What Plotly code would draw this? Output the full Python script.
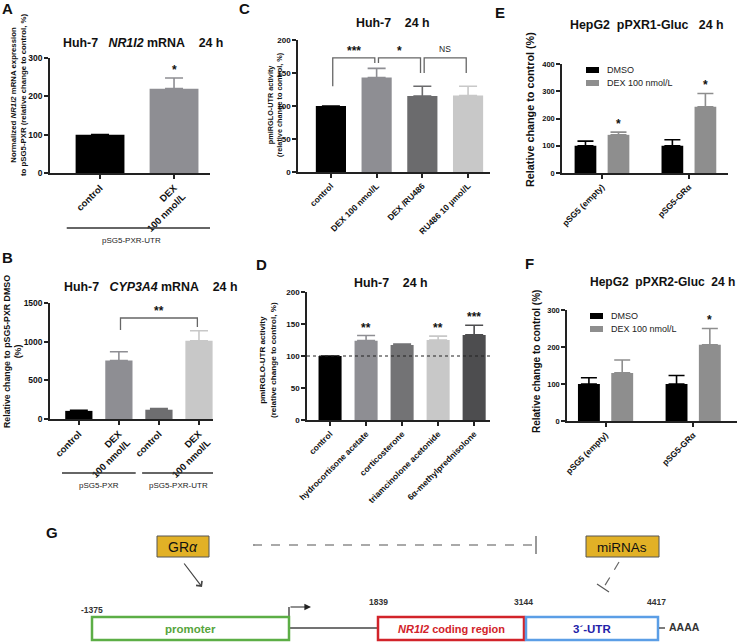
import plotly.graph_objects as go

W, H = 738, 642
FONT = "Arial, 'Liberation Sans', sans-serif"
NB = "\u00a0"

# ---------------- data ----------------
a_labels = ["control", "DEX<br>100 nmol/L"]
a_values = [100, 220]
a_err = [0, 28]
a_colors = ["#000000", "#8e8e93"]
a_stars = [(1, "*")]
a_groups = [("pSG5-PXR-UTR", 0, 1)]

b_labels = ["control", "DEX<br>100 nmol/L", "control", "DEX<br>100 nmol/L"]
b_values = [105, 755, 120, 1012]
b_err = [6, 115, 15, 130]
b_colors = ["#000000", "#8e8e93", "#6e6e70", "#c8c8c8"]
b_groups = [("pSG5-PXR", 0, 1), ("pSG5-PXR-UTR", 2, 3)]
b_brackets = [(1, 3, 1306, 1150, 1190, "**")]

c_labels = ["control", "DEX 100 nmol/L", "DEX /RU486", "RU486 10 µmol/L"]
c_values = [100, 143, 115, 116]
c_err = [0, 14, 15, 14]
c_colors = ["#000000", "#8e8e93", "#6b6b6d", "#c8c8c8"]
c_brackets = [(0, 1, 173, 130, 165, "***"), (1, 2, 173, 165, 150, "*"),
              (2, 3, 173, 150, 150, "NS")]

d_labels = ["control", "hydrocortisone acetate", "corticosterone",
            "triamcinolone acetonide", "6α-methylprednisolone"]
d_values = [100, 124, 117, 125, 133]
d_err = [0, 8, 1.5, 6, 15]
d_colors = ["#000000", "#8e8e93", "#737375", "#c8c8c8", "#4d4d4f"]
d_stars = [(1, "**"), (3, "**"), (4, "***")]
d_ref = 100

e_labels = ["pSG5 (empty)", "pSG5-GRα"]
e_dmso = [100, 100]
e_dmso_err = [17, 22]
e_dex = [140, 243]
e_dex_err = [10, 49]
e_stars = [(0, "*"), (1, "*")]

f_labels = ["pSG5 (empty)", "pSG5-GRα"]
f_dmso = [100, 100]
f_dmso_err = [17, 23]
f_dex = [130, 206]
f_dex_err = [35, 44]
f_stars = [(1, "*")]

series_names = ["DMSO", "DEX 100 nmol/L"]
series_colors = ["#000000", "#8e8e8e"]

g_positions = ["-1375", "1839", "3144", "4417"]

fig = go.Figure()


def dom(x0, x1, yb, yt):
    return [x0 / W, x1 / W], [1 - yb / H, 1 - yt / H]


def setup_axes(n, xpx, ypx, xr, yr, dtick, labels, xfs, yfs):
    s = "" if n == 1 else str(n)
    xd, yd = dom(xpx[0], xpx[1], ypx[0], ypx[1])
    fig.update_layout(**{
        "xaxis" + s: dict(domain=xd, anchor="y" + s, range=xr, automargin=False,
                          tickmode="array", tickvals=list(range(len(labels))),
                          ticktext=labels, tickangle=-45, ticks="outside",
                          ticklen=4, tickwidth=1.5, tickcolor="#222",
                          showline=True, linecolor="#222", linewidth=1.5,
                          showgrid=False, zeroline=False, fixedrange=True,
                          tickfont=dict(size=xfs, family=FONT, color="#111", weight="bold")),
        "yaxis" + s: dict(domain=yd, anchor="x" + s, range=yr, tickmode="linear",
                          automargin=False, fixedrange=True,
                          tick0=0, dtick=dtick, ticks="outside", ticklen=4,
                          tickwidth=1.5, tickcolor="#222", showline=True,
                          linecolor="#222", linewidth=1.5, showgrid=False,
                          zeroline=False,
                          tickfont=dict(size=yfs, family=FONT, color="#111", weight="bold")),
    })
    return s


def single_bars(s, values, err, colors, width):
    for i, (v, e, c) in enumerate(zip(values, err, colors)):
        fig.add_trace(go.Bar(
            x=[i], y=[v], width=width, marker=dict(color=c, line=dict(width=0)),
            error_y=dict(type="data", symmetric=False, array=[e], arrayminus=[0],
                         color=c, thickness=1.6, width=9),
            xaxis="x" + s, yaxis="y" + s, showlegend=False, hoverinfo="skip"))


annotations = []
shapes = []


def grouped_bars(s, dmso, dmso_err, dex, dex_err, legend_xy):
    lx, ly = legend_xy
    for k, (vals, errs, off) in enumerate([(dmso, dmso_err, -0.315), (dex, dex_err, 0.065)]):
        name, col = series_names[k], series_colors[k]
        fig.add_trace(go.Bar(
            x=list(range(len(vals))), y=vals, width=0.25, offset=off, name=name,
            marker=dict(color=col, line=dict(width=0)),
            error_y=dict(type="data", symmetric=False, array=errs,
                         arrayminus=[0] * len(errs), color=col, thickness=1.6, width=8),
            xaxis="x" + s, yaxis="y" + s, showlegend=False, hoverinfo="skip"))
        # legend entry (symbol + name)
        yy = ly + 13 * k
        shapes.append(dict(type="rect", xref="paper", yref="paper",
                           x0=lx / W, x1=(lx + 13) / W, y0=1 - (yy - 3) / H, y1=1 - (yy + 3) / H,
                           fillcolor=col, line=dict(width=0)))
        annotations.append(dict(x=(lx + 19) / W, y=1 - yy / H, xref="paper", yref="paper",
                                text=name, showarrow=False, xanchor="left", yanchor="middle",
                                font=dict(size=9, family=FONT, color="#222")))


def star(s, x, y, text, size=12):
    annotations.append(dict(x=x, y=y, xref="x" + s, yref="y" + s, text=text,
                            showarrow=False, yanchor="bottom", yshift=-1,
                            font=dict(size=size, family=FONT, color="#111", weight="bold")))


def bracket(s, i0, i1, top, yl, yr_, text):
    inset = 0.04
    x0, x1 = i0 + inset, i1 - inset
    shapes.append(dict(type="path", xref="x" + s, yref="y" + s,
                       path=f"M {x0},{yl} L {x0},{top} L {x1},{top} L {x1},{yr_}",
                       line=dict(color="#666", width=1.3)))
    if text == "NS":
        f = dict(size=8.5, family=FONT, color="#222")
        ys = 2
    else:
        f = dict(size=12, family=FONT, color="#111", weight="bold")
        ys = -2
    annotations.append(dict(x=(i0 + i1) / 2, y=top, xref="x" + s, yref="y" + s,
                            text=text, showarrow=False, yanchor="bottom", yshift=ys, font=f))


def text(xp, yp, t, size, bold=True, color="#111", anchor="center", angle=0):
    annotations.append(dict(x=xp / W, y=1 - yp / H, xref="paper", yref="paper",
                            text=t, showarrow=False, xanchor=anchor, yanchor="middle",
                            textangle=angle,
                            font=dict(size=size, family=FONT, color=color,
                                      weight="bold" if bold else "normal")))


# ---------------- Panel A ----------------
sA = setup_axes(1, (50, 210), (173, 58), [-0.676, 1.486], [0, 300], 100, a_labels, 9.5, 8.5)
single_bars(sA, a_values, a_err, a_colors, 0.66)
for i, t in a_stars:
    star(sA, i, a_values[i] + a_err[i], t)
for name, i0, i1 in a_groups:
    shapes.append(dict(type="line", xref="x", yref="paper", x0=i0 - 0.45, x1=i1 + 0.5,
                       y0=1 - 228 / H, y1=1 - 228 / H, line=dict(color="#333", width=1.3)))
    annotations.append(dict(x=(i0 + i1) / 2 - 0.07, y=1 - 240 / H, xref="x", yref="paper",
                            text=name, showarrow=False, yanchor="middle",
                            font=dict(size=8, family=FONT, color="#222")))

# ---------------- Panel B ----------------
sB = setup_axes(2, (50, 213), (419, 303), [-0.72, 3.35], [0, 1500], 500, b_labels, 9.5, 8.5)
single_bars(sB, b_values, b_err, b_colors, 0.68)
for i0, i1, top, yl, yr_, t in b_brackets:
    bracket(sB, i0, i1, top, yl, yr_, t)
for name, i0, i1 in b_groups:
    shapes.append(dict(type="line", xref="x2", yref="paper", x0=i0 - 0.42, x1=i1 + 0.42,
                       y0=1 - 473 / H, y1=1 - 473 / H, line=dict(color="#333", width=1.3)))
    annotations.append(dict(x=(i0 + i1) / 2, y=1 - 485 / H, xref="x2", yref="paper",
                            text=name, showarrow=False, yanchor="middle",
                            font=dict(size=8, family=FONT, color="#222")))

# ---------------- Panel C ----------------
sC = setup_axes(3, (298, 490), (172, 40), [-0.72, 3.48], [0, 200], 50, c_labels, 8.5, 8)
single_bars(sC, c_values, c_err, c_colors, 0.66)
for i0, i1, top, yl, yr_, t in c_brackets:
    bracket(sC, i0, i1, top, yl, yr_, t)

# ---------------- Panel D ----------------
sD = setup_axes(4, (307, 490), (420, 292), [-0.64, 4.44], [0, 200], 50, d_labels, 8.5, 8)
single_bars(sD, d_values, d_err, d_colors, 0.64)
shapes.append(dict(type="line", xref="x4 domain", yref="y4", x0=0, x1=1, y0=d_ref, y1=d_ref,
                   line=dict(color="#222", width=1, dash="dot")))
for i, t in d_stars:
    star(sD, i, d_values[i] + d_err[i], t)

# ---------------- Panel E ----------------
sE = setup_axes(5, (562, 728), (173, 64), [-0.46, 1.45], [0, 400], 100, e_labels, 8.5, 7.5)
grouped_bars(sE, e_dmso, e_dmso_err, e_dex, e_dex_err, (586, 70))
for i, t in e_stars:
    star(sE, i + 0.19, e_dex[i] + e_dex_err[i], t)

# ---------------- Panel F ----------------
sF = setup_axes(6, (567, 737), (421, 310), [-0.44, 1.5], [0, 300], 100, f_labels, 8.5, 7.5)
grouped_bars(sF, f_dmso, f_dmso_err, f_dex, f_dex_err, (590, 316))
for i, t in f_stars:
    star(sF, i + 0.19, f_dex[i] + f_dex_err[i], t)

# ---------------- titles, letters, axis titles ----------------
for lx, ly, L in [(7, 8, "A"), (7, 257, "B"), (244, 8, "C"), (261, 264, "D"),
                  (500, 13, "E"), (529, 263, "F"), (52, 532, "G")]:
    text(lx, ly, L, 15)

text(143, 43, f"Huh-7{NB}{NB}{NB}<i>NR1I2</i> mRNA{NB}{NB}{NB}{NB}24 h", 12.4)
text(151, 287, f"Huh-7{NB}{NB}{NB}<i>CYP3A4</i> mRNA{NB}{NB}{NB}{NB}24 h", 12.4)
text(393, 23, f"Huh-7{NB}{NB}{NB}{NB}24 h", 12.4)
text(391, 283, f"Huh-7{NB}{NB}{NB}{NB}24 h", 12.4)
text(568, 25, f"HepG2{NB}{NB}pPXR1-Gluc{NB}{NB}{NB}24 h", 12.4, anchor="left")
text(737, 282, f"HepG2{NB}{NB}pPXR2-Gluc{NB}{NB}24 h", 12, anchor="right")

text(19, 95, "Normalized <i>NR1I2</i> mRNA expression<br>to pSG5-PXR (relative change to control, %)",
     7.8, angle=-90)
text(13, 352, "Relative change to pSG5-PXR DMSO<br>(%)", 8.8, angle=-90)
text(275, 105, "pmiRGLO-UTR activity<br>(relative change to control, %)", 7.3, angle=-90)
text(268, 360, "pmiRGLO-UTR activity<br>(relative change to control, %)", 8.1, angle=-90)
text(530, 110, "Relative change to control (%)", 10.8, angle=-90)
text(537, 362, "Relative change to control (%)", 10, angle=-90)

# ---------------- Panel G (schematic on a hidden pixel axis) ----------------
fig.update_layout(
    xaxis7=dict(domain=[0, 1], range=[0, W], visible=False, anchor="y7", fixedrange=True,
                automargin=False),
    yaxis7=dict(domain=[0, 1 - 528 / H], range=[H, 528], visible=False, anchor="x7",
                fixedrange=True, automargin=False),
)


def gshape(**kw):
    d = dict(xref="x7", yref="y7")
    d.update(kw)
    shapes.append(d)


def gtext(x, y, t, size, color="#111", bold=True, anchor="center"):
    annotations.append(dict(x=x, y=y, xref="x7", yref="y7", text=t, showarrow=False,
                            xanchor=anchor, yanchor="middle",
                            font=dict(size=size, family=FONT, color=color,
                                      weight="bold" if bold else "normal")))


gold = "#e2b126"
gshape(type="rect", x0=157, x1=209, y0=536, y1=557, fillcolor=gold, line=dict(color="#555", width=1))
gtext(183, 547, "GR<i>α</i>", 14, bold=False)
gshape(type="rect", x0=586, x1=659, y0=536, y1=557, fillcolor=gold, line=dict(color="#555", width=1))
gtext(622, 547, "miRNAs", 13.5, bold=False)
gshape(type="line", x0=253, x1=536, y0=545, y1=545, line=dict(color="#555", width=1.2, dash="dash"))
gshape(type="line", x0=536, x1=536, y0=536, y1=554, line=dict(color="#555", width=1.2))
annotations.append(dict(x=202, y=587, ax=183, ay=562, xref="x7", yref="y7", axref="x7", ayref="y7",
                        showarrow=True, arrowhead=4, arrowsize=1.2, arrowwidth=1.2, arrowcolor="#444",
                        text=""))
gshape(type="line", x0=619, x1=604, y0=562, y1=587, line=dict(color="#666", width=1.2, dash="dash"))
gshape(type="line", x0=597, x1=609, y0=584, y1=592, line=dict(color="#555", width=1.2))

gshape(type="line", x0=289, x1=378, y0=628, y1=628, line=dict(color="#444", width=1.4))
gshape(type="line", x0=289, x1=289, y0=628, y1=607, line=dict(color="#222", width=1.2))
annotations.append(dict(x=311, y=607, ax=289, ay=607, xref="x7", yref="y7", axref="x7", ayref="y7",
                        showarrow=True, arrowhead=2, arrowsize=1.1, arrowwidth=1.2, arrowcolor="#222",
                        text=""))
gshape(type="rect", x0=92, x1=289, y0=617, y1=640, fillcolor="white", line=dict(color="#5cae46", width=2.5))
gtext(190, 629, "promoter", 11.5, color="#56a43c")
gshape(type="rect", x0=378, x1=524, y0=617, y1=640, fillcolor="white", line=dict(color="#d2232a", width=2.5))
gtext(451, 629, "<i>NR1I2</i> coding region", 11, color="#d2232a")
gshape(type="rect", x0=526, x1=658, y0=617, y1=640, fillcolor="white", line=dict(color="#5b9ee6", width=2.5))
gtext(592, 629, "3´-UTR", 11.5, color="#2222a8")
gshape(type="line", x0=659, x1=665, y0=628, y1=628, line=dict(color="#444", width=1.4))
gtext(667, 627, "AAAA", 10.5, color="#333", anchor="left")

for lbl, gx, gy in zip(g_positions, [92, 378, 523, 656], [610, 602, 602, 602]):
    gtext(gx, gy, lbl, 8.5, color="#333")

fig.update_layout(
    width=W, height=H, margin=dict(l=0, r=0, t=0, b=0, autoexpand=False),
    template="none",
    paper_bgcolor="white", plot_bgcolor="white",
    font=dict(family=FONT, color="#111"),
    barmode="overlay", showlegend=False,
    shapes=shapes, annotations=annotations,
)

fig.write_html("out.html", post_script="document.body.style.margin='0';",
               config={"displayModeBar": False})
